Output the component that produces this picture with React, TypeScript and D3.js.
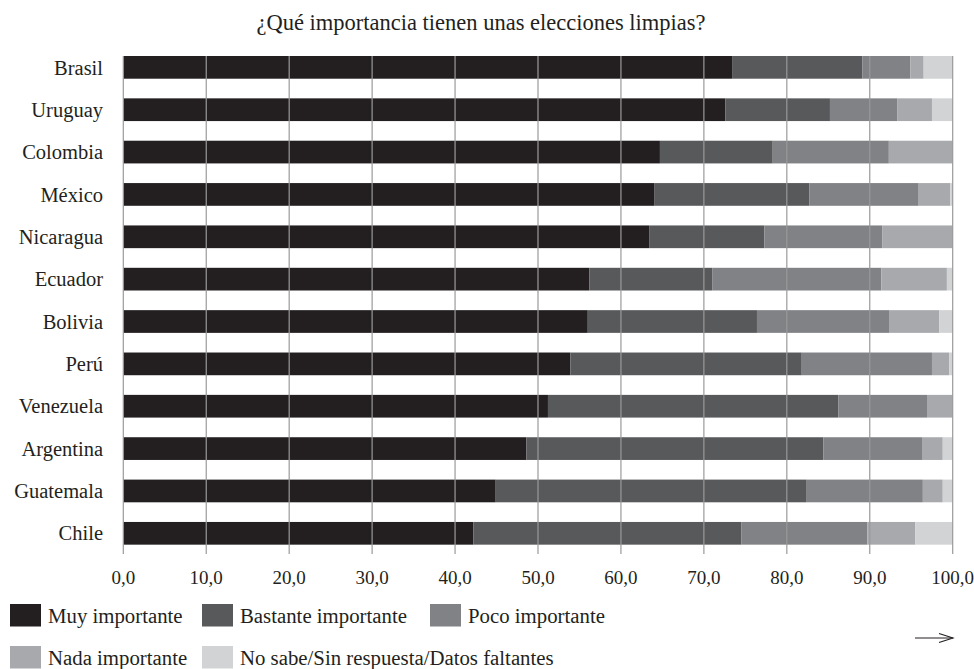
import React from "react";
import * as d3 from "d3";

const title = "¿Qué importancia tienen unas elecciones limpias?";
const countries = ["Brasil", "Uruguay", "Colombia", "México", "Nicaragua", "Ecuador", "Bolivia", "Perú", "Venezuela", "Argentina", "Guatemala", "Chile"];
const seriesNames = ["Muy importante", "Bastante importante", "Poco importante", "Nada importante", "No sabe/Sin respuesta/Datos faltantes"];
const muy = [73.4, 72.6, 64.7, 64.0, 63.4, 56.2, 56.0, 53.9, 51.2, 48.6, 44.9, 42.2];
const bastante = [15.7, 12.6, 13.6, 18.7, 13.9, 14.8, 20.4, 27.9, 35.0, 35.8, 37.5, 32.3];
const poco = [5.8, 8.1, 14.0, 13.2, 14.2, 20.4, 16.0, 15.7, 10.7, 11.9, 14.0, 15.2];
const nada = [1.6, 4.2, 7.7, 3.8, 8.5, 7.9, 6.0, 2.1, 3.1, 2.5, 2.4, 5.8];
const nsnr = [3.5, 2.5, 0.0, 0.3, 0.0, 0.7, 1.6, 0.4, 0.0, 1.2, 1.2, 4.5];
const ticks = [0, 10, 20, 30, 40, 50, 60, 70, 80, 90, 100];
const colors = ["#231f20", "#58595b", "#808285", "#a7a9ac", "#d1d3d4"];

const FONT = "'Liberation Serif', 'Times New Roman', serif";

export default function App() {
  const W = 974, H = 669;
  const x = d3.scaleLinear().domain([0, 100]).range([123.3, 952.7]);
  const step = 42.36;
  const p = 0.464;
  const y = d3.scaleBand().domain(countries).range([56 - (p / 2) * step, 56 - (p / 2) * step + 12 * step]).paddingInner(p).paddingOuter(p / 2);
  const series = [muy, bastante, poco, nada, nsnr];
  const rows = countries.map((c, i) => {
    const o: any = { country: c };
    seriesNames.forEach((s, k) => (o[s] = series[k][i]));
    return o;
  });
  const stacked = d3.stack().keys(seriesNames)(rows);
  const gridTop = y(countries[0])!;
  const gridBottom = 554;
  const fmt = (v: number) => v.toFixed(1).replace(".", ",");

  const legendItems = [
    { x: 10, y: 604, i: 0 },
    { x: 202, y: 604, i: 1 },
    { x: 430, y: 604, i: 2 },
    { x: 10, y: 646, i: 3 },
    { x: 202, y: 646, i: 4 },
  ];

  return (
    <svg width={W} height={H} style={{ position: "absolute", left: 0, top: 0 }} fontFamily={FONT}>
      <rect width={W} height={H} fill="#fff" />
      <text x={481} y={30} textAnchor="middle" fontSize={22.5} fill="#231f20">{title}</text>
      {stacked.map((s, k) => (
        <g key={k} fill={colors[k]}>
          {s.map((d, i) => (
            <rect key={i} x={x(d[0])} y={y(countries[i])} width={Math.max(0, x(d[1]) - x(d[0]))} height={y.bandwidth()} />
          ))}
        </g>
      ))}
      {ticks.map((t) => (
        <line key={t} x1={x(t)} x2={x(t)} y1={gridTop} y2={gridBottom} stroke="#9a9a9a" strokeWidth={1.2} />
      ))}
      {countries.map((c) => (
        <text key={c} x={103} y={y(c)! + y.bandwidth() / 2} dy="0.35em" textAnchor="end" fontSize={20.5} fill="#231f20">{c}</text>
      ))}
      {ticks.map((t) => (
        <text key={t} x={x(t)} y={584} textAnchor="middle" fontSize={19} fill="#231f20">{fmt(t)}</text>
      ))}
      {legendItems.map((l) => (
        <g key={l.i}>
          <rect x={l.x} y={l.y} width={31} height={22.5} fill={colors[l.i]} />
          <text x={l.x + 38} y={l.y + 19} fontSize={20.8} fill="#231f20">{seriesNames[l.i]}</text>
        </g>
      ))}
      <g stroke="#231f20" strokeWidth={1.1} fill="none">
        <line x1={915} x2={953} y1={638} y2={638} />
        <polyline points="939,633.5 953,638 939,642.5" />
      </g>
    </svg>
  );
}
